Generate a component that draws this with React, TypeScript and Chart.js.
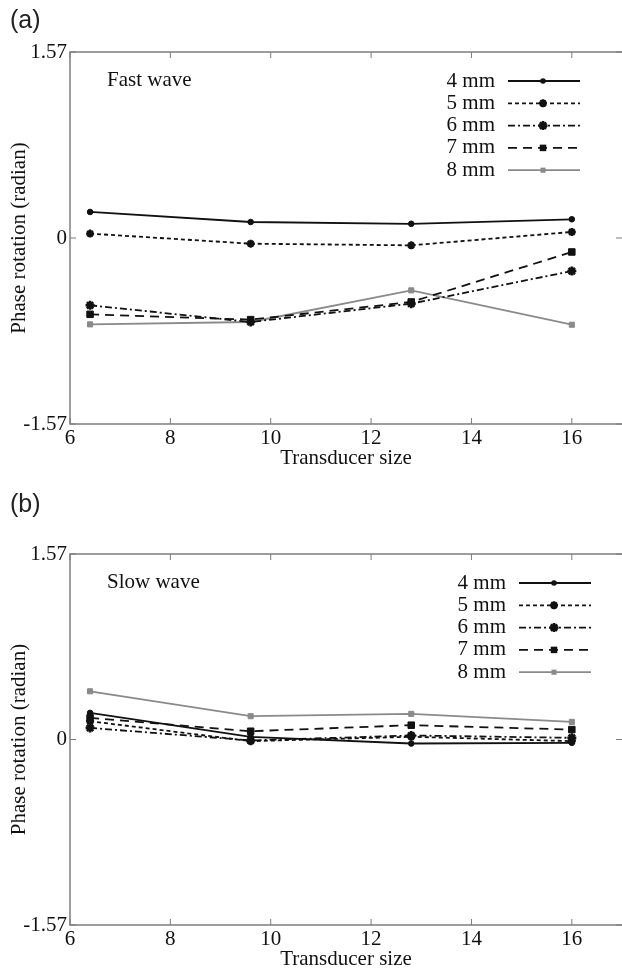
import React, { useEffect, useRef } from "react";
import { Chart, registerables } from "chart.js";

Chart.register(...registerables);

// ---------- data ----------
const sizes = [6.4, 9.6, 12.8, 16];
const seriesNames = ["4 mm", "5 mm", "6 mm", "7 mm", "8 mm"];

const fast4 = [0.22, 0.135, 0.12, 0.158];
const fast5 = [0.037, -0.048, -0.062, 0.051];
const fast6 = [-0.568, -0.709, -0.554, -0.279];
const fast7 = [-0.644, -0.689, -0.54, -0.118];
const fast8 = [-0.729, -0.709, -0.442, -0.732];

const slow4 = [0.225, 0.023, -0.034, -0.028];
const slow5 = [0.155, -0.014, 0.023, -0.014];
const slow6 = [0.098, -0.008, 0.034, 0.014];
const slow7 = [0.183, 0.07, 0.121, 0.084];
const slow8 = [0.408, 0.197, 0.217, 0.149];

const xTicks = [6, 8, 10, 12, 14, 16];
const yTicks = [-1.57, 0, 1.57];
const yTickLabels = ["-1.57", "0", "1.57"];

// ---------- styles ----------
const SERIF = "'Liberation Serif', 'Times New Roman', serif";
const SANS = "'Liberation Sans', Arial, sans-serif";
const styles = [
  { color: "#111", dash: [] as number[], point: "circle", r: 2.8, pbw: 1 },
  { color: "#111", dash: [4, 3], point: "star", r: 4, pbw: 2.4 },
  { color: "#111", dash: [7, 3, 2, 3], point: "star", r: 4.5, pbw: 2.6 },
  { color: "#111", dash: [9, 6], point: "rect", r: 4.6, pbw: 1 },
  { color: "#8a8a8a", dash: [] as number[], point: "rect", r: 3.6, pbw: 1 },
];

type PanelOpts = {
  series: number[][];
  canvasH: number;
  padTop: number;
  xAxisH: number;
  titlePadBottom: number;
  panelLabel: string;
  panelLabelY: number;
  waveLabel: string;
  legendDx: number;
};

function drawMarker(ctx: CanvasRenderingContext2D, kind: string, x: number, y: number, r: number, color: string, bw: number) {
  ctx.save();
  ctx.setLineDash([]);
  ctx.fillStyle = color;
  ctx.strokeStyle = color;
  ctx.lineWidth = bw;
  if (kind === "circle") {
    ctx.beginPath();
    ctx.arc(x, y, r, 0, Math.PI * 2);
    ctx.fill();
  } else if (kind === "rect") {
    const s = r * Math.SQRT1_2;
    ctx.fillRect(x - s, y - s, 2 * s, 2 * s);
  } else {
    ctx.beginPath();
    for (let k = 0; k < 4; k++) {
      const a = (k * Math.PI) / 4;
      ctx.moveTo(x - Math.cos(a) * r, y - Math.sin(a) * r);
      ctx.lineTo(x + Math.cos(a) * r, y + Math.sin(a) * r);
    }
    ctx.stroke();
  }
  ctx.restore();
}

function makePlugin(p: PanelOpts) {
  return {
    id: "frame",
    beforeDatasetsDraw(chart: any) {
      const { ctx, chartArea, scales } = chart;
      const { left, right, top, bottom } = chartArea;
      ctx.save();
      ctx.strokeStyle = "#7d7d7d";
      ctx.lineWidth = 1.5;
      // frame: left, top and bottom edges (the right edge lies at the canvas edge)
      ctx.beginPath();
      ctx.moveTo(right + 1, top);
      ctx.lineTo(left, top);
      ctx.lineTo(left, bottom);
      ctx.lineTo(right + 1, bottom);
      ctx.stroke();
      ctx.lineWidth = 1;
      const seg = (x1: number, y1: number, x2: number, y2: number) => {
        ctx.beginPath();
        ctx.moveTo(x1, y1);
        ctx.lineTo(x2, y2);
        ctx.stroke();
      };
      xTicks.forEach((v) => {
        const px = scales.x.getPixelForValue(v);
        seg(px, bottom, px, bottom - 6);
        seg(px, top, px, top + 6);
      });
      yTicks.forEach((v) => {
        const py = scales.y.getPixelForValue(v);
        seg(left, py, left + 6, py);
        seg(right - 6, py, right, py);
      });
      ctx.restore();
    },
    afterDraw(chart: any) {
      const { ctx, chartArea } = chart;
      const { left, top } = chartArea;
      ctx.save();
      // panel label
      ctx.fillStyle = "#222";
      ctx.font = `25px ${SANS}`;
      ctx.textAlign = "left";
      ctx.textBaseline = "middle";
      ctx.fillText(p.panelLabel, 10, p.panelLabelY);
      // wave label
      ctx.fillStyle = "#111";
      ctx.font = `21px ${SERIF}`;
      ctx.fillText(p.waveLabel, left + 37, top + 28);
      // legend
      chart.data.datasets.forEach((ds: any, i: number) => {
        const st = styles[i];
        const y = top + 29 + i * 22.3;
        const textRight = left + p.legendDx;
        ctx.fillStyle = "#111";
        ctx.textAlign = "right";
        ctx.font = `21px ${SERIF}`;
        ctx.fillText(ds.label, textRight, y);
        ctx.strokeStyle = st.color;
        ctx.lineWidth = 1.8;
        ctx.setLineDash(st.dash);
        ctx.beginPath();
        ctx.moveTo(textRight + 13, y);
        ctx.lineTo(textRight + 85, y);
        ctx.stroke();
        drawMarker(ctx, st.point, textRight + 48, y, st.r, st.color, st.pbw);
      });
      ctx.restore();
    },
  };
}

function makeConfig(p: PanelOpts): any {
  return {
    type: "line",
    data: {
      datasets: p.series.map((vals, i) => ({
        label: seriesNames[i],
        data: sizes.map((x, j) => ({ x, y: vals[j] })),
        borderColor: styles[i].color,
        backgroundColor: styles[i].color,
        borderDash: styles[i].dash,
        borderWidth: 1.8,
        pointStyle: styles[i].point,
        pointRadius: styles[i].r,
        pointBorderWidth: styles[i].pbw,
        tension: 0,
        fill: false,
      })),
    },
    options: {
      responsive: false,
      animation: false,
      devicePixelRatio: 1,
      layout: { autoPadding: false, padding: { top: p.padTop, left: 0, right: 0, bottom: 0 } },
      plugins: { legend: { display: false }, tooltip: { enabled: false } },
      scales: {
        x: {
          type: "linear",
          min: 6,
          max: 17,
          afterBuildTicks: (s: any) => {
            s.ticks = xTicks.map((v) => ({ value: v }));
          },
          afterFit: (s: any) => {
            s.height = p.xAxisH;
            s.paddingLeft = 0;
            s.paddingRight = 0;
          },
          ticks: {
            font: { family: SERIF, size: 21 },
            color: "#111",
            padding: 2,
            maxRotation: 0,
            autoSkip: false,
          },
          grid: { display: false, drawTicks: false },
          border: { display: false },
          title: {
            display: true,
            text: "Transducer size",
            font: { family: SERIF, size: 21 },
            color: "#111",
            padding: { top: 0, bottom: p.titlePadBottom },
          },
        },
        y: {
          type: "linear",
          min: -1.57,
          max: 1.57,
          afterBuildTicks: (s: any) => {
            s.ticks = yTicks.map((v) => ({ value: v }));
          },
          afterFit: (s: any) => {
            s.width = 70;
            s.paddingTop = 0;
            s.paddingBottom = 0;
          },
          ticks: {
            font: { family: SERIF, size: 21 },
            color: "#111",
            padding: 3,
            callback: (_v: any, idx: number) => yTickLabels[idx],
          },
          grid: { display: false, drawTicks: false },
          border: { display: false },
          title: {
            display: true,
            text: "Phase rotation (radian)",
            font: { family: SERIF, size: 21 },
            color: "#111",
            padding: { top: 7, bottom: 0 },
          },
        },
      },
    },
    plugins: [makePlugin(p)],
  };
}

const panelA: PanelOpts = {
  series: [fast4, fast5, fast6, fast7, fast8],
  canvasH: 480,
  padTop: 52,
  xAxisH: 56,
  titlePadBottom: 9,
  panelLabel: "(a)",
  panelLabelY: 21,
  waveLabel: "Fast wave",
  legendDx: 425,
};

const panelB: PanelOpts = {
  series: [slow4, slow5, slow6, slow7, slow8],
  canvasH: 493,
  padTop: 74,
  xAxisH: 48,
  titlePadBottom: 1,
  panelLabel: "(b)",
  panelLabelY: 25,
  waveLabel: "Slow wave",
  legendDx: 436,
};

export default function App() {
  const refA = useRef<HTMLCanvasElement>(null);
  const refB = useRef<HTMLCanvasElement>(null);
  useEffect(() => {
    const a = new Chart(refA.current as HTMLCanvasElement, makeConfig(panelA));
    const b = new Chart(refB.current as HTMLCanvasElement, makeConfig(panelB));
    return () => {
      a.destroy();
      b.destroy();
    };
  }, []);
  return (
    <div style={{ position: "absolute", left: 0, top: 0, width: 622, height: 973, background: "#fff", overflow: "hidden" }}>
      <canvas
        ref={refA}
        width={622}
        height={panelA.canvasH}
        style={{ position: "absolute", left: 0, top: 0, width: 622, height: panelA.canvasH }}
      />
      <canvas
        ref={refB}
        width={622}
        height={panelB.canvasH}
        style={{ position: "absolute", left: 0, top: panelA.canvasH, width: 622, height: panelB.canvasH }}
      />
    </div>
  );
}
